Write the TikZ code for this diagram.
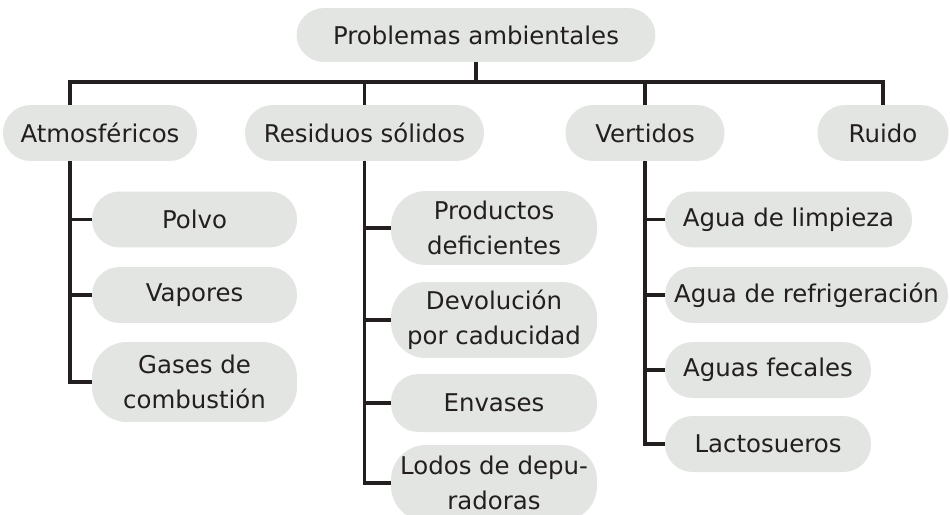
\documentclass[tikz,border=0pt]{standalone}
\usepackage{fontspec}
\setmainfont{DejaVu Sans}
\definecolor{fondo}{RGB}{226,229,225}
\definecolor{tinta}{RGB}{35,31,32}
\begin{document}
\begin{tikzpicture}[x=0.02cm,y=-0.02cm,
    caja/.style={fill=fondo,rounded corners=0.55cm,align=center,inner sep=0pt,
      text=tinta,minimum height=1.12cm,font=\fontsize{13.9}{20}\selectfont},
    caja2/.style={caja,rounded corners=0.7cm},
    conn/.style={draw=tinta,line width=2.2pt}]
        \useasboundingbox (0,0) rectangle (950,514);

        \node[caja,minimum width=7.18cm,minimum height=1.08cm] (PA) at (476,35) {Problemas ambientales};

        \node[caja,minimum width=3.88cm] (ATM) at (100,133) {Atmosféricos};
        \node[caja,minimum width=4.78cm] (RES) at (364.5,133) {Residuos sólidos};
        \node[caja,minimum width=3.18cm] (VER) at (645,133) {Vertidos};
        \node[caja,minimum width=2.62cm] (RUI) at (883,133) {Ruido};

        \node[caja,minimum width=4.1cm] (POL) at (194.5,219.5) {Polvo};
        \node[caja,minimum width=4.1cm] (VAP) at (194.5,295) {Vapores};
        \node[caja2,minimum width=4.1cm,minimum height=1.6cm] (GAS) at (194.5,382) {Gases de\\combustión};

        \node[caja2,minimum width=4.12cm,minimum height=1.48cm] (PRO) at (494,228) {Productos\\deficientes};
        \node[caja2,minimum width=4.12cm,minimum height=1.52cm] (DEV) at (494,320) {Devolución\\por caducidad};
        \node[caja,minimum width=4.12cm,minimum height=1.16cm] (ENV) at (494,403) {Envases};
        \node[caja2,minimum width=4.12cm,minimum height=1.52cm] (LOD) at (494,483) {Lodos de depu-\\radoras};

        \node[caja,minimum width=4.94cm] (LIM) at (788.5,219.5) {Agua de limpieza};
        \node[caja,minimum width=5.66cm] (REF) at (806.5,295) {Agua de refrigeración};
        \node[caja,minimum width=4.12cm] (FEC) at (768,370) {Aguas fecales};
        \node[caja,minimum width=4.12cm] (LAC) at (768,444) {Lactosueros};

        % tronco principal
        \coordinate (bus) at (476,82);
        \coordinate (atmx) at (70,0);
        \draw[conn] (PA.south) -- (PA.south |- bus);
        \draw[conn] (ATM.north -| atmx) |- (bus) -| (RUI.north);
        \draw[conn] (RES.north) -- (RES.north |- bus);
        \draw[conn] (VER.north) -- (VER.north |- bus);

        % Atmosféricos
        \draw[conn] (ATM.south -| atmx) |- (GAS.west);
        \draw[conn] (atmx |- POL.west) -- (POL.west);
        \draw[conn] (atmx |- VAP.west) -- (VAP.west);

        % Residuos sólidos
        \draw[conn] (RES.south) |- (LOD.west);
        \draw[conn] (RES.south |- PRO.west) -- (PRO.west);
        \draw[conn] (RES.south |- DEV.west) -- (DEV.west);
        \draw[conn] (RES.south |- ENV.west) -- (ENV.west);

        % Vertidos
        \draw[conn] (VER.south) |- (LAC.west);
        \draw[conn] (VER.south |- LIM.west) -- (LIM.west);
        \draw[conn] (VER.south |- REF.west) -- (REF.west);
        \draw[conn] (VER.south |- FEC.west) -- (FEC.west);
\end{tikzpicture}
\end{document}
